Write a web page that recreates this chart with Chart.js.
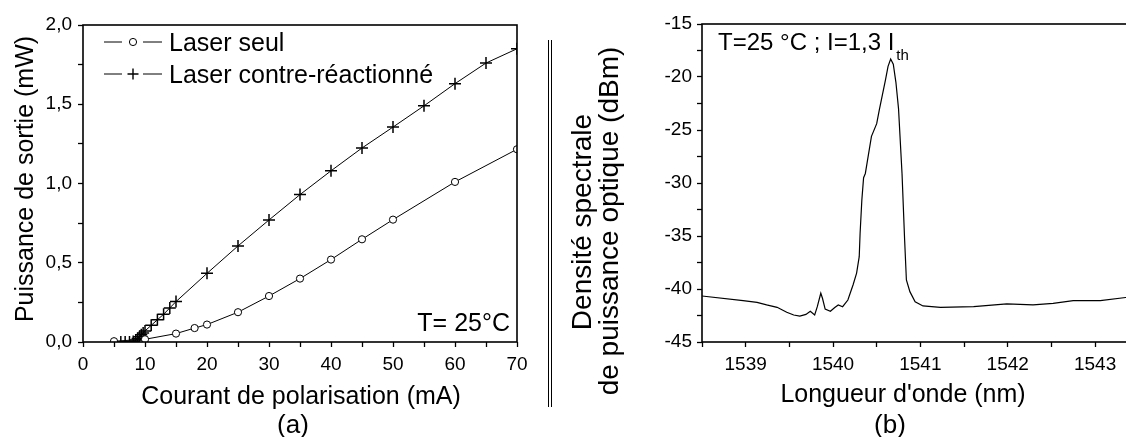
<!DOCTYPE html>
<html>
<head>
<meta charset="utf-8">
<script src="https://cdn.jsdelivr.net/npm/chart.js@4.4.1/dist/chart.umd.min.js"></script>
<style>
html, body { margin: 0; padding: 0; background: #fff; overflow: hidden; width: 1126px; height: 437px; }
#wrap { position: relative; width: 1126px; height: 437px; overflow: hidden; }
#chartA { position: absolute; left: 0; top: 0; }
#chartB { position: absolute; left: 560px; top: 0; }
</style>
</head>
<body>
<div id="wrap">
    <canvas id="chartA" width="560" height="437"></canvas>
    <canvas id="chartB" width="580" height="437"></canvas>
</div>
<script>
// (a) puissance de sortie vs courant
const currentAloneMa = [5, 10, 15, 18, 20, 25, 30, 35, 40, 45, 50, 60, 70];
const powerAloneMw = [0.005, 0.017, 0.053, 0.088, 0.11, 0.188, 0.29, 0.40, 0.52, 0.648, 0.772, 1.01, 1.216];

const currentFeedbackMa = [6.1, 6.8, 7.5, 8.1, 8.5, 8.8, 9.1, 9.4, 9.7, 10, 11, 12, 13, 14, 15,
    20, 25, 30, 35, 40, 45, 50, 55, 60, 65, 70];
const powerFeedbackMw = [0, 0, 0, 0.003, 0.012, 0.022, 0.033, 0.045, 0.057, 0.07, 0.105, 0.14, 0.175, 0.215, 0.255,
    0.433, 0.606, 0.77, 0.93, 1.08, 1.224, 1.356, 1.49, 1.63, 1.76, 1.85];

const currentTicks = [0, 10, 20, 30, 40, 50, 60, 70];
const powerTicks = [0, 0.5, 1.0, 1.5, 2.0];

// (b) spectre optique
const wavelengthNm = [1538.50, 1538.97, 1539.13, 1539.24, 1539.36, 1539.47, 1539.55, 1539.62, 1539.69, 1539.74,
    1539.79, 1539.82, 1539.86, 1539.88, 1539.91, 1539.97, 1540.02, 1540.06, 1540.11, 1540.17,
    1540.23, 1540.27, 1540.30, 1540.31, 1540.33, 1540.35, 1540.37, 1540.39, 1540.44, 1540.50,
    1540.53, 1540.60, 1540.63, 1540.66, 1540.69, 1540.72, 1540.75, 1540.79, 1540.82, 1540.84,
    1540.88, 1540.94, 1541.03, 1541.23, 1541.61, 1541.99, 1542.29, 1542.52, 1542.75, 1543.06,
    1543.35, 1543.42];
const densityDbm = [-40.66, -41.10, -41.26, -41.50, -41.73, -42.20, -42.45, -42.55, -42.40, -42.10,
    -42.45, -41.67, -40.40, -40.90, -41.90, -42.10, -41.75, -41.50, -41.67, -41.04,
    -39.60, -38.50, -36.95, -34.75, -31.60, -29.50, -29.10, -28.10, -25.60, -24.40,
    -23.10, -20.30, -19.00, -18.30, -18.80, -20.50, -23.00, -29.10, -35.40, -39.15,
    -40.25, -41.20, -41.60, -41.73, -41.67, -41.40, -41.50, -41.35, -41.10, -41.10,
    -40.80, -40.75];

const wavelengthTicks = [1539, 1540, 1541, 1542, 1543];
const densityTicks = [-45, -40, -35, -30, -25, -20, -15];

Chart.defaults.font.family = "'Liberation Sans', Arial, sans-serif";
Chart.defaults.color = '#000';

function toPoints(xs, ys) {
    return xs.map(function(x, i) { return { x: x, y: ys[i] }; });
}

function withMinor(major, min, max) {
    const half = (major[1] - major[0]) / 2;
    const out = [];
    for (let v = major[0] - half; v <= major[major.length - 1] + half + 1e-9; v += half) {
        if (v >= min - 1e-9 && v <= max + 1e-9) out.push(+v.toFixed(4));
    }
    return out;
}

function axis(min, max, major, fmt, fixSize, padding) {
    return {
        type: 'linear',
        min: min,
        max: max,
        afterBuildTicks: function(scale) {
            scale.ticks = withMinor(major, min, max).map(function(v) { return { value: v }; });
        },
        afterFit: fixSize,
        ticks: {
            autoSkip: false,
            maxRotation: 0,
            padding: padding,
            font: { size: 19 },
            color: '#000',
            callback: function(value) {
                return major.some(function(m) { return Math.abs(m - value) < 1e-6; }) ? fmt(value) : '';
            }
        },
        grid: {
            drawOnChartArea: false,
            drawTicks: true,
            tickLength: 5,
            tickColor: '#000',
            tickWidth: 1.3,
            color: '#000'
        },
        border: { display: false }
    };
}

const framePlugin = {
    id: 'frame',
    afterDraw: function(chart) {
        const ctx = chart.ctx;
        const a = chart.chartArea;
        ctx.save();
        ctx.strokeStyle = '#000';
        ctx.lineWidth = 1.6;
        ctx.strokeRect(a.left, a.top, a.right - a.left, a.bottom - a.top);
        ctx.restore();
    }
};

const textPlugin = {
    id: 'texts',
    afterDraw: function(chart, args, opts) {
        const ctx = chart.ctx;
        ctx.save();
        ctx.fillStyle = '#000';
        (opts.items || []).forEach(function(t) {
            ctx.save();
            ctx.font = t.size + "px 'Liberation Sans', Arial, sans-serif";
            ctx.textAlign = t.align || 'center';
            ctx.textBaseline = 'alphabetic';
            ctx.translate(t.x, t.y);
            if (t.rotate) ctx.rotate(-Math.PI / 2);
            ctx.fillText(t.text, 0, 0);
            if (t.sub) {
                const w = ctx.measureText(t.text).width;
                ctx.font = t.subSize + "px 'Liberation Sans', Arial, sans-serif";
                ctx.textAlign = 'left';
                ctx.fillText(t.sub, w + 2, 10);
            }
            ctx.restore();
        });
        (opts.vlines || []).forEach(function(l) {
            ctx.strokeStyle = '#000';
            ctx.lineWidth = 1;
            ctx.beginPath();
            ctx.moveTo(l.x, l.y1);
            ctx.lineTo(l.x, l.y2);
            ctx.stroke();
        });
        (opts.legend || []).forEach(function(row) {
            ctx.strokeStyle = '#000';
            ctx.lineWidth = 1;
            ctx.beginPath();
            ctx.moveTo(row.x, row.y);
            ctx.lineTo(row.x + 18, row.y);
            ctx.moveTo(row.x + 39, row.y);
            ctx.lineTo(row.x + 58, row.y);
            ctx.stroke();
            ctx.fillStyle = '#fff';
            ctx.lineWidth = row.pointWidth;
            Chart.helpers.drawPoint(ctx, { pointStyle: row.pointStyle, radius: row.radius, borderWidth: row.pointWidth }, row.x + 29, row.y);
            ctx.fillStyle = '#000';
            ctx.font = "25px 'Liberation Sans', Arial, sans-serif";
            ctx.textAlign = 'left';
            ctx.fillText(row.text, row.x + 65, row.y + 9);
        });
        ctx.restore();
    }
};

new Chart(document.getElementById('chartA').getContext('2d'), {
    type: 'scatter',
    data: {
        datasets: [{
            label: 'Laser seul',
            data: toPoints(currentAloneMa, powerAloneMw),
            showLine: true,
            borderColor: '#000',
            borderWidth: 1,
            pointStyle: 'circle',
            pointRadius: 3.6,
            pointBorderWidth: 1,
            pointBackgroundColor: '#fff',
            pointBorderColor: '#000'
        }, {
            label: 'Laser contre-réactionné',
            data: toPoints(currentFeedbackMa, powerFeedbackMw),
            showLine: true,
            borderColor: '#000',
            borderWidth: 1,
            pointStyle: 'cross',
            pointRadius: 6,
            pointBorderWidth: 1.5,
            pointBackgroundColor: '#000',
            pointBorderColor: '#000'
        }]
    },
    options: {
        responsive: false,
        animation: false,
        layout: { padding: { top: 25, right: 43, left: 0, bottom: 0 } },
        plugins: {
            legend: { display: false },
            tooltip: { enabled: false },
            texts: {
                items: [
                    { text: 'Puissance de sortie (mW)', x: 33, y: 179, size: 25, rotate: true },
                    { text: 'Courant de polarisation (mA)', x: 301, y: 404, size: 25 },
                    { text: '(a)', x: 293, y: 433, size: 26 },
                    { text: 'T= 25°C', x: 510, y: 331, size: 25, align: 'right' }
                ],
                legend: [
                    { x: 104, y: 42, text: 'Laser seul', pointStyle: 'circle', radius: 3.6, pointWidth: 1 },
                    { x: 104, y: 74, text: 'Laser contre-réactionné', pointStyle: 'cross', radius: 5.5, pointWidth: 1.4 }
                ],
                vlines: [
                    { x: 548.5, y1: 40, y2: 407 },
                    { x: 551.5, y1: 40, y2: 407 }
                ]
            }
        },
        scales: {
            x: axis(0, 70, currentTicks, function(v) { return String(v); },
                function(s) { s.height = 95; }, 6),
            y: axis(0, 2, powerTicks, function(v) { return v.toFixed(1).replace('.', ','); },
                function(s) { s.width = 83; }, 6)
        }
    },
    plugins: [framePlugin, textPlugin]
});

new Chart(document.getElementById('chartB').getContext('2d'), {
    type: 'scatter',
    data: {
        datasets: [{
            label: 'Densité spectrale',
            data: toPoints(wavelengthNm, densityDbm),
            showLine: true,
            borderColor: '#000',
            borderWidth: 1.2,
            pointRadius: 0
        }]
    },
    options: {
        responsive: false,
        animation: false,
        layout: { padding: { top: 24, right: 10, left: 0, bottom: 0 } },
        plugins: {
            legend: { display: false },
            tooltip: { enabled: false },
            texts: {
                items: [
                    { text: 'Densité spectrale', x: 31, y: 222, size: 28, rotate: true },
                    { text: 'de puissance optique (dBm)', x: 58, y: 221, size: 28, rotate: true },
                    { text: "Longueur d'onde (nm)", x: 343, y: 402, size: 25 },
                    { text: '(b)', x: 330, y: 433, size: 26 },
                    { text: 'T=25 °C ; I=1,3 I', x: 158, y: 50, size: 24, align: 'left', sub: 'th', subSize: 15 }
                ]
            }
        },
        scales: {
            x: axis(1538.5, 1543.4, wavelengthTicks, function(v) { return String(v); },
                function(s) { s.height = 95; }, 6),
            y: axis(-45, -15, densityTicks, function(v) { return String(v); },
                function(s) { s.width = 142; }, 5)
        }
    },
    plugins: [framePlugin, textPlugin]
});
</script>
</body>
</html>
